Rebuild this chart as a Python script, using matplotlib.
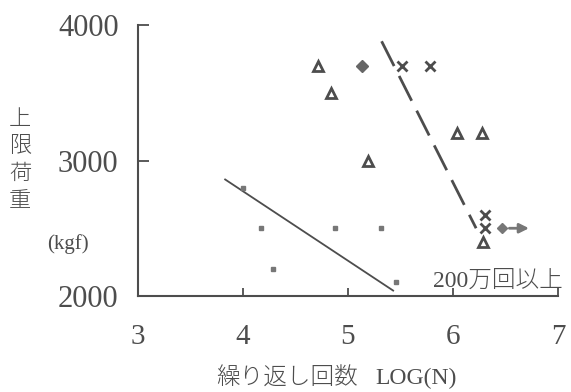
import matplotlib.pyplot as plt

# upper load vs. number of cycles (log10 N)
sq_x = [4.0, 4.17, 4.29, 4.88, 5.31, 5.46]
sq_y = [2800, 2500, 2200, 2500, 2500, 2100]
tri_x = [4.71, 4.84, 5.19, 6.04, 6.28, 6.29]
tri_y = [3700, 3500, 3000, 3200, 3200, 2400]
cross_x = [5.51, 5.78, 6.30, 6.30]
cross_y = [3700, 3700, 2600, 2500]
dot_x = [5.13]
dot_y = [3700]
runout_x = [6.47]
runout_y = [2500]

# fitted lines
solid_x = [3.83, 5.43]
solid_y = [2860, 2040]
dash_x = [5.32, 6.22]
dash_y = [3880, 2500]

xticks = [3, 4, 5, 6, 7]
yticks = [2000, 3000, 4000]

ink = "#4d4d4d"
serif = ["Liberation Serif", "DejaVu Serif"]
cjk = ["Noto Sans CJK JP", "DejaVu Sans"]
mixed = ["Liberation Serif", "Noto Sans CJK JP"]

fig = plt.figure(figsize=(5.71, 3.92), dpi=100)
ax = fig.add_axes([138 / 571, 1 - 296 / 392, 420 / 571, 271 / 392])

ax.plot(solid_x, solid_y, color=ink, lw=1.3)
ax.plot(dash_x, dash_y, color=ink, lw=2.0, dashes=(10, 4))

ax.plot(sq_x, sq_y, "s", ms=3.5, color="#777777", mec="#777777")
ax.plot(tri_x, tri_y, "^", ms=7, mfc="white", mec=ink, mew=2.0)
ax.plot(cross_x, cross_y, "x", ms=7, color=ink, mew=2.0)
ax.plot(dot_x, dot_y, "D", ms=6, color="#666666")
ax.plot(runout_x, runout_y, "D", ms=5, color="#777777")
ax.annotate("", xy=(runout_x[0] + 0.28, runout_y[0]), xytext=(runout_x[0] + 0.04, runout_y[0]),
            arrowprops=dict(arrowstyle="-|>", color="#777777", lw=2.0, mutation_scale=14))

ax.text(7.05, 2110, "200万回以上", family=mixed, fontsize=17, fontweight="light", color=ink,
        ha="right", va="center")

ax.set_xlim(3, 7)
ax.set_ylim(2000, 4000)
ax.set_xticks(xticks)
ax.set_yticks(yticks)
ax.set_xticklabels([str(t) for t in xticks], family=serif, fontsize=21, color=ink)
ax.set_yticklabels([str(t) for t in yticks], family=serif, fontsize=22, color=ink)
ax.tick_params(axis="x", direction="in", length=6, width=1.3, color=ink, pad=20)
ax.tick_params(axis="y", direction="in", length=8, width=1.3, color=ink, pad=14)
for side in ["top", "right"]:
    ax.spines[side].set_visible(False)
for side in ["left", "bottom"]:
    ax.spines[side].set_color(ink)
    ax.spines[side].set_linewidth(1.5)

fig.text(20 / 571, 1 - 160 / 392, "上\n限\n荷\n重", family=cjk, fontsize=16, fontweight="light",
         color=ink, ha="center", va="center", linespacing=1.3)
fig.text(68 / 571, 1 - 244 / 392, "(kgf)", family=serif, fontsize=15, color=ink,
         ha="center", va="center")
fig.text(358 / 571, 1 - 378 / 392, "繰り返し回数", family=cjk, fontsize=17, fontweight="light",
         color=ink, ha="right", va="center")
fig.text(375 / 571, 1 - 378 / 392, "LOG(N)", family=serif, fontsize=17, color=ink,
         ha="left", va="center")

fig.savefig("out.png", dpi=100)
